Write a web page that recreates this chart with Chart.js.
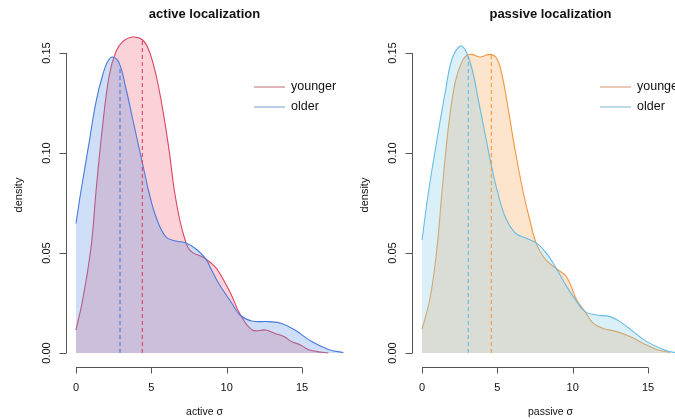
<!DOCTYPE html>
<html>
<head>
<meta charset="utf-8">
<script src="https://cdn.jsdelivr.net/npm/chart.js@4.4.1/dist/chart.umd.min.js"></script>
<style>
  html, body { margin: 0; padding: 0; background: #fff; }
  body { width: 675px; height: 419px; overflow: hidden; position: relative; }
  canvas { position: absolute; top: 0; }
  #left { left: 0; }
  #right { left: 346px; }
</style>
</head>
<body>
<canvas id="left" width="350" height="419"></canvas>
<canvas id="right" width="350" height="419"></canvas>
<script>
// Tick labels
const xTicks = [0, 5, 10, 15];
const yTicks = [0, 0.05, 0.10, 0.15];
const yTickLabels = ['0.00', '0.05', '0.10', '0.15'];
const groups = ['younger', 'older'];

// active localization - density estimates
const activeYoungerX = [0, 0.44, 1.0, 1.33, 1.77, 2.21, 2.65, 3.1, 3.76, 4.42, 4.87, 5.31, 5.75, 6.19, 6.52, 6.9, 7.2, 7.45, 7.75, 8.4, 8.96, 9.4, 10.25, 10.88, 11.7, 12.6, 13.2, 13.8, 14.3, 14.9, 15.4, 16.0, 16.75];
const activeYoungerY = [0.0115, 0.0265, 0.053, 0.081, 0.114, 0.139, 0.1507, 0.1557, 0.158, 0.1565, 0.1507, 0.139, 0.122, 0.1007, 0.0815, 0.066, 0.0575, 0.0525, 0.0502, 0.048, 0.045, 0.0415, 0.030, 0.0195, 0.0115, 0.0115, 0.0098, 0.0082, 0.0057, 0.004, 0.0018, 0.0007, 0];
const activeOlderX = [0, 0.33, 0.88, 1.33, 1.77, 2.1, 2.43, 2.87, 3.32, 3.76, 4.2, 4.64, 4.8, 5.31, 5.97, 6.64, 7.3, 7.96, 8.6, 8.96, 9.45, 10.33, 10.88, 11.66, 12.76, 13.65, 14.53, 15.64, 16.75, 17.74];
const activeOlderY = [0.0648, 0.081, 0.1057, 0.1257, 0.139, 0.1457, 0.148, 0.1448, 0.132, 0.117, 0.102, 0.087, 0.0815, 0.068, 0.058, 0.056, 0.055, 0.052, 0.0472, 0.042, 0.035, 0.025, 0.019, 0.016, 0.0157, 0.0148, 0.0115, 0.0057, 0.0018, 0.0002];
const activeMeans = [4.4, 2.92];
const activeMeanHeights = [0.1562, 0.1435];

// passive localization
const passiveYoungerX = [0, 0.55, 1.0, 1.33, 1.77, 2.21, 2.65, 2.99, 3.32, 3.87, 4.53, 4.98, 5.31, 5.64, 6.08, 6.41, 6.8, 7.17, 7.5, 7.85, 8.27, 8.94, 9.6, 10.27, 10.82, 11.37, 12.03, 12.92, 13.8, 14.68, 15.57, 16.46];
const passiveYoungerY = [0.0118, 0.028, 0.053, 0.081, 0.114, 0.1357, 0.1457, 0.149, 0.1493, 0.148, 0.1493, 0.147, 0.139, 0.1257, 0.1057, 0.092, 0.0775, 0.066, 0.0565, 0.0505, 0.0462, 0.042, 0.038, 0.0265, 0.0207, 0.0148, 0.0123, 0.0107, 0.0082, 0.0048, 0.0018, 0.0002];
const passiveOlderX = [0, 0.44, 1.0, 1.55, 1.99, 2.54, 2.87, 3.32, 3.76, 4.2, 4.65, 5.04, 5.53, 6.19, 6.97, 7.63, 8.27, 8.94, 9.6, 10.27, 10.82, 11.59, 12.48, 13.14, 14.02, 14.91, 16.01, 16.8, 17.7];
const passiveOlderY = [0.0565, 0.081, 0.107, 0.1307, 0.147, 0.1535, 0.1515, 0.142, 0.1257, 0.109, 0.092, 0.0798, 0.068, 0.06, 0.0573, 0.0548, 0.0498, 0.042, 0.0332, 0.0257, 0.0207, 0.019, 0.0182, 0.0157, 0.0107, 0.0057, 0.0018, 0.0002, 0];
const passiveMeans = [4.6, 3.07];
const passiveMeanHeights = [0.1492, 0.1485];

const FONT = 'Arial, "Liberation Sans", Helvetica, sans-serif';

function pts(xs, ys) {
    return xs.map((x, i) => ({ x: x, y: ys[i] }));
}

// axes, title, labels and legend drawn R-style on top of the chart
const rAxesPlugin = {
    id: 'rAxes',
    afterDraw(chart, args, opts) {
        const ctx = chart.ctx;
        const xs = chart.scales.x;
        const ys = chart.scales.y;
        const area = chart.chartArea;
        ctx.save();
        ctx.strokeStyle = '#555';
        ctx.lineWidth = 1;
        ctx.fillStyle = '#111';

        // y axis
        const ax = Math.round(area.left) + 0.5;
        ctx.beginPath();
        ctx.moveTo(ax, ys.getPixelForValue(yTicks[0]));
        ctx.lineTo(ax, ys.getPixelForValue(yTicks[yTicks.length - 1]));
        yTicks.forEach(t => {
            const py = Math.round(ys.getPixelForValue(t)) + 0.5;
            ctx.moveTo(ax, py);
            ctx.lineTo(ax - 7, py);
        });
        ctx.stroke();
        ctx.font = '11px ' + FONT;
        ctx.textAlign = 'center';
        ctx.textBaseline = 'middle';
        yTicks.forEach((t, i) => {
            const py = ys.getPixelForValue(t);
            ctx.save();
            ctx.translate(area.left - 19, py);
            ctx.rotate(-Math.PI / 2);
            ctx.fillText(yTickLabels[i], 0, 0);
            ctx.restore();
        });

        // x axis
        const ay = Math.round(area.bottom) + 0.5;
        ctx.beginPath();
        ctx.moveTo(xs.getPixelForValue(xTicks[0]), ay);
        ctx.lineTo(xs.getPixelForValue(xTicks[xTicks.length - 1]), ay);
        xTicks.forEach(t => {
            const px = Math.round(xs.getPixelForValue(t)) + 0.5;
            ctx.moveTo(px, ay);
            ctx.lineTo(px, ay + 6);
        });
        ctx.stroke();
        xTicks.forEach(t => {
            ctx.fillText(String(t), xs.getPixelForValue(t), ay + 20);
        });

        const cx = (area.left + area.right) / 2;
        // axis titles
        ctx.font = '10.5px ' + FONT;
        ctx.fillText(opts.xLabel, cx - 2, 412);
        ctx.save();
        ctx.translate(19, 195);
        ctx.rotate(-Math.PI / 2);
        ctx.font = '11px ' + FONT;
        ctx.fillText('density', 0, 0);
        ctx.restore();

        // main title
        ctx.font = 'bold 13px ' + FONT;
        ctx.fillText(opts.title, cx - 2, 14);

        // legend
        ctx.font = '12.5px ' + FONT;
        ctx.textAlign = 'left';
        groups.forEach((g, i) => {
            const ly = 87 + i * 20;
            ctx.strokeStyle = opts.legendColors[i];
            ctx.lineWidth = 2;
            ctx.beginPath();
            ctx.moveTo(area.left + 188, ly);
            ctx.lineTo(area.left + 219, ly);
            ctx.stroke();
            ctx.fillText(g, area.left + 225, ly);
        });
        ctx.restore();
    }
};

function makePanel(id, cfg) {
    const meanLine = (m, h, color) => ({
        data: [{ x: m, y: 0 }, { x: m, y: h }],
        borderColor: color,
        borderWidth: 1.1,
        borderDash: [4, 3],
        fill: false,
        pointRadius: 0,
        order: 0
    });
    new Chart(document.getElementById(id), {
        type: 'line',
        data: {
            datasets: [
                {
                    label: groups[0],
                    data: pts(cfg.youngX, cfg.youngY),
                    borderColor: cfg.youngLine,
                    backgroundColor: cfg.youngFill,
                    borderWidth: 1.1,
                    fill: 'origin',
                    pointRadius: 0,
                    tension: 0.4,
                    order: 2
                },
                {
                    label: groups[1],
                    data: pts(cfg.oldX, cfg.oldY),
                    borderColor: cfg.oldLine,
                    backgroundColor: cfg.oldFill,
                    borderWidth: 1.1,
                    fill: 'origin',
                    pointRadius: 0,
                    tension: 0.4,
                    order: 1
                },
                meanLine(cfg.means[0], cfg.meanHeights[0], cfg.youngLine),
                meanLine(cfg.means[1], cfg.meanHeights[1], cfg.oldLine)
            ]
        },
        options: {
            responsive: false,
            animation: false,
            devicePixelRatio: 1,
            layout: { padding: { left: 66, right: 3, top: 25, bottom: 52 } },
            scales: {
                x: { type: 'linear', display: false, min: -0.664, max: 17.983 },
                y: { type: 'linear', display: false, min: -0.007, max: 0.164 }
            },
            plugins: {
                legend: { display: false },
                tooltip: { enabled: false },
                rAxes: {
                    title: cfg.title,
                    xLabel: cfg.xLabel,
                    legendColors: cfg.legendColors
                }
            }
        },
        plugins: [rAxesPlugin]
    });
}

makePanel('left', {
    title: 'active localization',
    xLabel: 'active σ',
    youngX: activeYoungerX, youngY: activeYoungerY,
    oldX: activeOlderX, oldY: activeOlderY,
    means: activeMeans, meanHeights: activeMeanHeights,
    youngLine: 'rgb(222, 66, 96)',
    youngFill: 'rgba(238, 105, 125, 0.3)',
    oldLine: 'rgb(74, 122, 222)',
    oldFill: 'rgba(92, 145, 225, 0.3)',
    legendColors: ['rgb(222, 180, 188)', 'rgb(188, 205, 230)']
});

makePanel('right', {
    title: 'passive localization',
    xLabel: 'passive σ',
    youngX: passiveYoungerX, youngY: passiveYoungerY,
    oldX: passiveOlderX, oldY: passiveOlderY,
    means: passiveMeans, meanHeights: passiveMeanHeights,
    youngLine: 'rgb(240, 152, 64)',
    youngFill: 'rgba(248, 165, 88, 0.3)',
    oldLine: 'rgb(104, 188, 226)',
    oldFill: 'rgba(133, 205, 232, 0.3)',
    legendColors: ['rgb(234, 202, 180)', 'rgb(190, 218, 232)']
});
</script>
</body>
</html>
